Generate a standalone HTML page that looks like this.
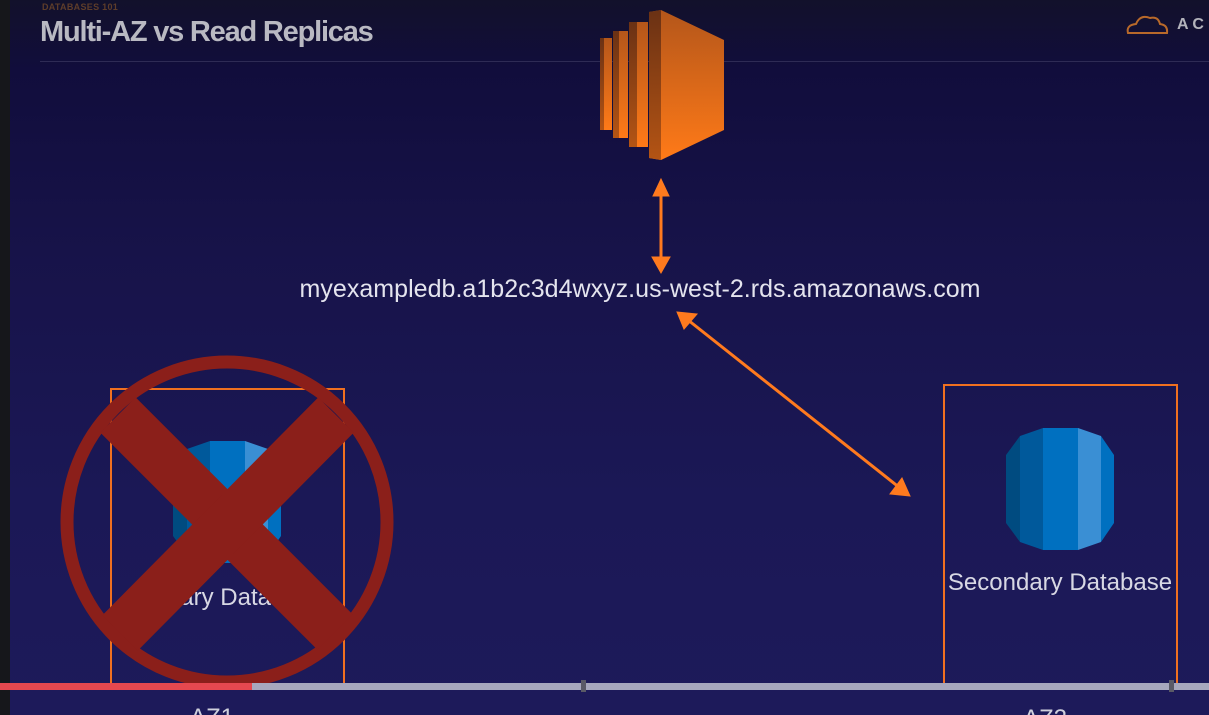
<!DOCTYPE html>
<html><head><meta charset="utf-8"><style>
html,body{margin:0;padding:0;}
body{width:1209px;height:715px;overflow:hidden;position:relative;font-family:"Liberation Sans",sans-serif;
background:linear-gradient(180deg,#12112b 0px,#110d3c 70px,#171349 250px,#1b1856 500px,#1d1a5a 715px);}
.strip{position:absolute;left:0;top:0;width:10px;height:715px;background:#16171b;}
</style></head><body>
<div class="strip"></div>
<div style="position:absolute;left:42px;top:2px;font-size:9px;font-weight:bold;color:#5e3d2a;letter-spacing:.3px">DATABASES 101</div>
<div style="position:absolute;left:40px;top:16px;font-size:29px;font-weight:bold;color:#b9b9c2;letter-spacing:-1.2px">Multi-AZ vs Read Replicas</div>
<div style="position:absolute;left:40px;top:61px;width:1169px;height:1px;background:#2e2b55"></div>
<div style="position:absolute;left:1177px;top:16px;font-size:16px;font-weight:bold;color:#b3b3bb">A C</div>
<svg width="1209" height="715" style="position:absolute;left:0;top:0">
<defs>
<linearGradient id="og" x1="0" y1="0" x2="0" y2="1"><stop offset="0" stop-color="#b4561a"/><stop offset="1" stop-color="#ff7a18"/></linearGradient>
<linearGradient id="od" x1="0" y1="0" x2="0" y2="1"><stop offset="0" stop-color="#6a3114"/><stop offset="1" stop-color="#b45414"/></linearGradient>
</defs>
<path d="M1128 33 q-2 -8 8 -9 q4 -10 14 -6 q8 -2 10 6 q8 1 7 9 z" fill="none" stroke="#b8692a" stroke-width="2"/>
<rect x="600" y="38" width="12" height="92" fill="url(#og)"/><rect x="600" y="38" width="4" height="92" fill="url(#od)"/>
<rect x="613" y="31" width="15" height="107" fill="url(#og)"/><rect x="613" y="31" width="6" height="107" fill="url(#od)"/>
<rect x="629" y="22" width="19" height="125" fill="url(#og)"/><rect x="629" y="22" width="8" height="125" fill="url(#od)"/>
<polygon points="649,12 661,10 724,40 724,130 661,160 649,158" fill="url(#og)"/>
<polygon points="649,12 661,10 661,160 649,158" fill="url(#od)"/>
<g stroke="#ff7a1e" stroke-width="3" fill="#ff7a1e">
<line x1="661" y1="190" x2="661" y2="262"/>
<polygon points="661,179 653,196 669,196" stroke-width="1"/>
<polygon points="661,273 652,257 670,257" stroke-width="1"/>
<line x1="688" y1="320" x2="900" y2="488"/>
<polygon points="677,312 697,314 684,329" stroke-width="1"/>
<polygon points="910,496 890,494 902,478" stroke-width="1"/>
</g>
<rect x="111" y="389" width="233" height="300" fill="none" stroke="#f07020" stroke-width="2"/>
<rect x="944" y="385" width="233" height="300" fill="none" stroke="#f07020" stroke-width="2"/>
<g id="db">
<polygon points="1006,455 1020,436 1020,542 1006,523" fill="#004b80"/>
<polygon points="1020,436 1043,428 1043,550 1020,542" fill="#00599b"/>
<rect x="1043" y="428" width="35" height="122" fill="#0070c0"/>
<polygon points="1078,428 1101,436 1101,542 1078,550" fill="#3a8fd4"/>
<polygon points="1101,436 1114,455 1114,523 1101,542" fill="#0070c0"/>
</g>
<use href="#db" transform="translate(-833,13)"/>
<text x="227" y="605" text-anchor="middle" font-size="24" fill="#d8d8e4" font-family="Liberation Sans">Primary Database</text>
<text x="1060" y="590" text-anchor="middle" font-size="24" fill="#d8d8e4" font-family="Liberation Sans">Secondary Database</text>
<text x="640" y="297" text-anchor="middle" font-size="25" textLength="681" fill="#e4e4ee" font-family="Liberation Sans">myexampledb.a1b2c3d4wxyz.us-west-2.rds.amazonaws.com</text>
<g stroke="#8b1f1a" fill="none">
<circle cx="227" cy="522" r="160" stroke-width="13"/>
<line x1="118" y1="415" x2="335" y2="632" stroke-width="50"/>
<line x1="336" y1="415" x2="120" y2="633" stroke-width="50"/>
</g>
<rect x="0" y="683" width="1209" height="7" fill="#a7a8bd"/>
<rect x="0" y="683" width="252" height="7" fill="#e5484f"/>
<rect x="581" y="680" width="5" height="12" fill="#5a5a66"/>
<rect x="1169" y="680" width="5" height="12" fill="#5a5a66"/>
<text x="212" y="725" text-anchor="middle" font-size="24" fill="#d0d0dc" font-family="Liberation Sans">AZ1</text>
<text x="1045" y="726" text-anchor="middle" font-size="24" fill="#d0d0dc" font-family="Liberation Sans">AZ2</text>
</svg>
</body></html>
